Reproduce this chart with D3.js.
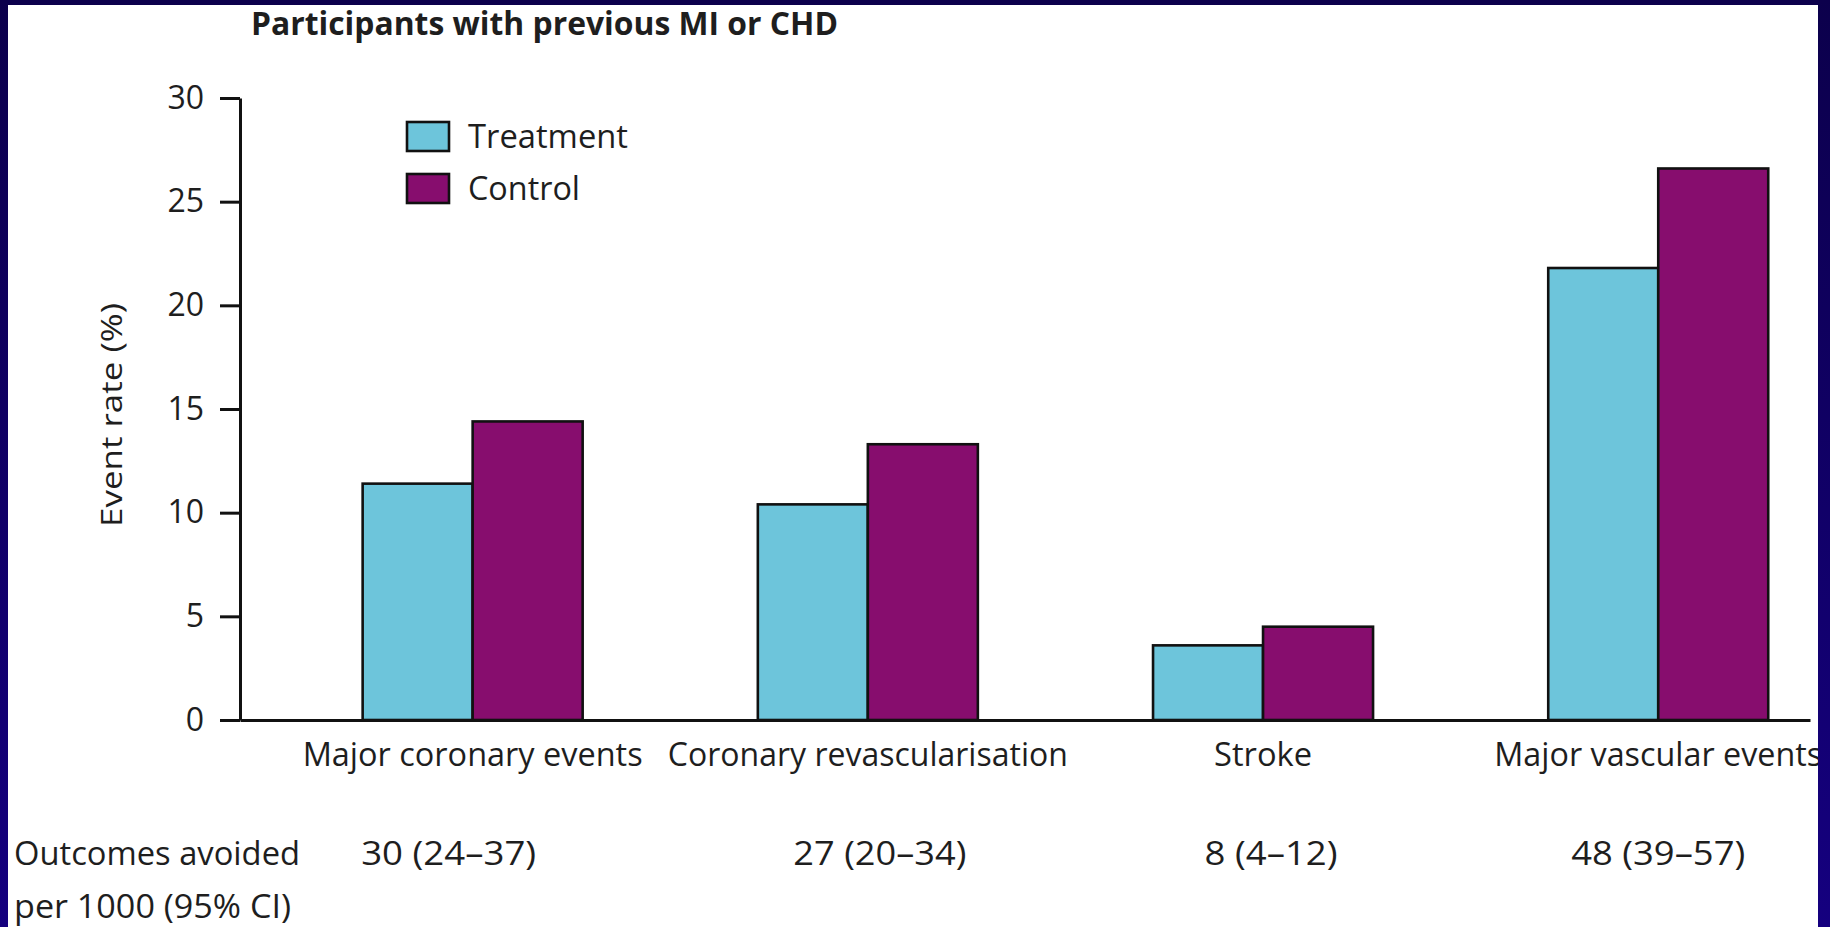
<!DOCTYPE html>
<html>
<head>
<meta charset="utf-8">
<script src="https://cdn.jsdelivr.net/npm/d3@7"></script>
<style>
  html, body { margin: 0; padding: 0; background: #fff; }
  svg { display: block; }
  text { font-family: "Open Sans", "Noto Sans", sans-serif; fill: #1e1e1e; }
</style>
</head>
<body>
<svg id="chart" width="1830" height="927"></svg>
<script>
// Event rates (%) by outcome, treatment vs control
const categories = ["Major coronary events", "Coronary revascularisation", "Stroke", "Major vascular events"];
const series = ["Treatment", "Control"];
const treatment = [11.4, 10.4, 3.6, 21.8];
const control = [14.4, 13.3, 4.5, 26.6];
const avoided = ["30 (24–37)", "27 (20–34)", "8 (4–12)", "48 (39–57)"];
const yTicks = [0, 5, 10, 15, 20, 25, 30];

const colors = { Treatment: "#6dc5db", Control: "#870d6e" };
const W = 1830, H = 927;
const svg = d3.select("#chart");

// plot frame
const plotLeft = 240, plotRight = 1810, plotTop = 98, plotBottom = 720;

const y = d3.scaleLinear().domain([0, 30]).range([plotBottom, plotTop]);
const x = d3.scaleBand()
  .domain(categories)
  .range([plotLeft, plotRight])
  .paddingInner(0.4433)
  .paddingOuter(0.208)
  .align(0.746);
const xs = d3.scaleBand().domain(series).range([0, x.bandwidth()]).padding(0);

const rows = categories.map((c, i) => ({ cat: c, values: [
  { key: "Treatment", v: treatment[i] },
  { key: "Control", v: control[i] }
]}));

// bars
const g = svg.append("g");
g.selectAll("g.grp").data(rows).join("g")
  .attr("class", "grp")
  .attr("transform", d => `translate(${x(d.cat)},0)`)
  .selectAll("rect").data(d => d.values).join("rect")
  .attr("x", d => xs(d.key))
  .attr("y", d => y(d.v))
  .attr("width", xs.bandwidth())
  .attr("height", d => y(0) - y(d.v))
  .attr("fill", d => colors[d.key])
  .attr("stroke", "#111")
  .attr("stroke-width", 2.6);

// y axis
const yAxis = svg.append("g")
  .attr("transform", `translate(${plotLeft},0)`)
  .call(d3.axisLeft(y).tickValues(yTicks).tickSize(20).tickSizeOuter(0).tickPadding(16));
yAxis.select(".domain").attr("stroke", "#111").attr("stroke-width", 3);
yAxis.selectAll(".tick line").attr("stroke", "#111").attr("stroke-width", 3);
yAxis.selectAll(".tick text")
  .attr("font-size", 32)
  .attr("font-family", "'Open Sans', sans-serif")
  .attr("fill", "#1e1e1e");

// x axis (baseline + category labels)
const xAxis = svg.append("g")
  .attr("transform", `translate(0,${plotBottom})`)
  .call(d3.axisBottom(x).tickSize(0).tickSizeOuter(0).tickPadding(23));
xAxis.select(".domain").attr("stroke", "#111").attr("stroke-width", 3);
const labelWidths = { "Major coronary events": 340, "Coronary revascularisation": 400, "Stroke": 98, "Major vascular events": 328 };
xAxis.selectAll(".tick text")
  .attr("font-size", 32)
  .attr("font-family", "'Open Sans', sans-serif")
  .attr("fill", "#1e1e1e")
  .attr("textLength", d => labelWidths[d])
  .attr("lengthAdjust", "spacingAndGlyphs");

// y axis title
svg.append("text")
  .attr("transform", "translate(111,415) rotate(-90)")
  .attr("text-anchor", "middle")
  .attr("dy", "0.35em")
  .attr("font-size", 30)
  .attr("textLength", 224)
  .attr("lengthAdjust", "spacingAndGlyphs")
  .text("Event rate (%)");

// chart title
svg.append("text")
  .attr("x", 251).attr("y", 35)
  .attr("font-size", 32)
  .attr("font-weight", 700)
  .attr("textLength", 587)
  .attr("lengthAdjust", "spacingAndGlyphs")
  .text("Participants with previous MI or CHD");

// legend
const legend = svg.append("g").attr("transform", "translate(407,122)");
series.forEach((s, i) => {
  const row = legend.append("g").attr("transform", `translate(0,${i * 52})`);
  row.append("rect")
    .attr("width", 42).attr("height", 29)
    .attr("fill", colors[s]).attr("stroke", "#111").attr("stroke-width", 2.6);
  row.append("text")
    .attr("x", 61).attr("y", 15).attr("dy", "0.35em")
    .attr("font-size", 32)
    .attr("textLength", s === "Treatment" ? 160 : 112)
    .attr("lengthAdjust", "spacingAndGlyphs")
    .text(s);
});

// outcomes avoided row
svg.append("text").attr("x", 14).attr("y", 865).attr("font-size", 32)
  .attr("textLength", 286).attr("lengthAdjust", "spacingAndGlyphs")
  .text("Outcomes avoided");
svg.append("text").attr("x", 14).attr("y", 918).attr("font-size", 32)
  .attr("textLength", 277).attr("lengthAdjust", "spacingAndGlyphs")
  .text("per 1000 (95% CI)");
svg.append("g").selectAll("text").data(categories).join("text")
  .attr("x", (d, i) => x(d) + x.bandwidth() / 2 + [-24, 12, 8, 0][i])
  .attr("y", 865)
  .attr("text-anchor", "middle")
  .attr("font-size", 32)
  .attr("textLength", (d, i) => [175, 173, 133, 174][i])
  .attr("lengthAdjust", "spacingAndGlyphs")
  .text((d, i) => avoided[i]);

// slide frame
const defs = svg.append("defs");
const grad = defs.append("linearGradient").attr("id", "frame")
  .attr("x1", 0).attr("y1", 0).attr("x2", 0).attr("y2", 1);
grad.append("stop").attr("offset", 0).attr("stop-color", "#0c004c");
grad.append("stop").attr("offset", 1).attr("stop-color", "#15007f");
svg.append("path")
  .attr("fill", "url(#frame)")
  .attr("fill-rule", "evenodd")
  .attr("d", `M0,0H${W}V${H}H0Z M8,5H1818V${H}H8Z`);
</script>
</body>
</html>
